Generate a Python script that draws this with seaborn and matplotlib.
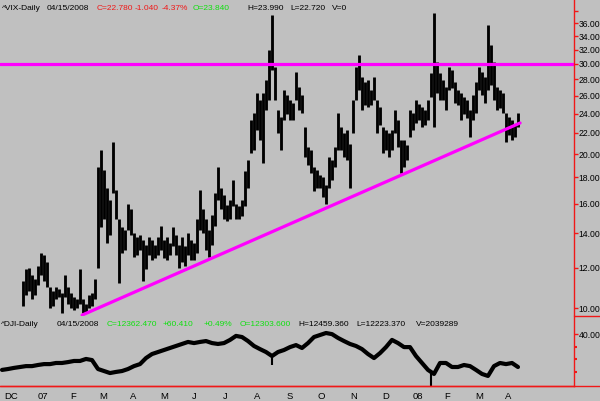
import numpy as np
import pandas as pd
import matplotlib
matplotlib.use("Agg")
import matplotlib.pyplot as plt
import seaborn as sns

# VIX daily bars (every second session), high / low
vix_high = [11.3, 11.9, 12.0, 11.6, 11.4, 12.1, 12.8, 12.7, 12.3, 11.0,
            10.8, 11.0, 10.9, 10.7, 11.6, 11.0, 10.7, 10.5, 10.4, 11.9,
            10.4, 10.2, 10.6, 10.7, 11.4, 18.9, 20.4, 18.6, 17.2, 16.3,
            21.1, 17.0, 14.9, 14.4, 14.2, 16.0, 15.6, 14.0, 13.8, 13.9,
            13.6, 13.3, 13.8, 13.6, 13.3, 13.8, 14.5, 13.6, 13.8, 13.4,
            14.4, 13.9, 13.3, 13.8, 13.2, 14.0, 13.6, 13.4, 14.9, 17.0,
            15.6, 14.9, 14.2, 15.2, 16.8, 18.9, 17.2, 16.6, 15.9, 16.3,
            17.8, 16.0, 15.8, 16.3, 18.5, 19.5, 23.3, 24.1, 26.3, 25.5,
            26.3, 27.9, 32.0, 37.4, 29.6, 24.4, 23.6, 26.7, 26.1, 25.5,
            25.2, 28.9, 27.1, 26.1, 22.6, 20.6, 20.4, 18.9, 18.6, 18.2,
            18.0, 17.4, 19.7, 19.5, 20.6, 24.1, 22.6, 22.0, 22.3, 20.9,
            25.5, 29.6, 31.3, 28.3, 27.6, 27.9, 26.7, 28.3, 25.5, 24.7,
            22.6, 22.3, 22.0, 22.3, 24.4, 23.3, 21.3, 21.3, 20.8, 24.4,
            24.1, 25.5, 25.0, 24.7, 24.4, 25.5, 28.8, 37.8, 30.2, 28.8,
            27.9, 27.1, 29.6, 29.2, 27.6, 26.7, 26.3, 25.9, 25.5, 24.4,
            26.1, 27.6, 29.6, 28.9, 28.3, 35.8, 32.6, 30.2, 27.1, 26.7,
            26.3, 24.1, 23.6, 23.3, 22.8, 24.1]
vix_low = [10.1, 10.6, 10.8, 10.4, 10.6, 11.1, 11.6, 11.3, 11.0, 10.0,
           10.1, 10.4, 10.5, 9.8, 10.5, 10.2, 10.0, 9.9, 10.0, 10.2,
           9.8, 9.8, 10.0, 10.1, 10.4, 12.0, 14.4, 14.9, 13.4, 13.9,
           16.8, 14.9, 11.2, 12.8, 13.0, 14.2, 13.9, 12.6, 12.7, 13.0,
           11.3, 11.9, 12.7, 12.4, 12.5, 12.7, 13.0, 12.5, 12.4, 12.7,
           13.2, 12.7, 12.0, 12.3, 12.1, 12.7, 12.4, 12.4, 12.8, 14.2,
           14.0, 13.0, 12.6, 13.3, 14.5, 16.3, 15.6, 14.9, 14.8, 14.9,
           15.8, 14.9, 14.9, 15.1, 15.8, 17.2, 20.1, 20.4, 22.3, 21.3,
           19.2, 24.4, 25.5, 29.2, 25.5, 22.0, 20.4, 23.3, 23.9, 23.3,
           23.3, 25.5, 24.4, 24.1, 19.7, 19.0, 18.4, 16.9, 17.2, 17.2,
           16.5, 16.0, 17.2, 17.8, 18.9, 20.4, 20.4, 19.7, 19.5, 17.2,
           22.0, 25.5, 26.7, 24.4, 24.9, 24.7, 24.9, 25.5, 22.0, 22.8,
           20.1, 20.4, 19.7, 20.4, 22.0, 20.6, 18.4, 18.9, 19.5, 21.6,
           22.3, 23.0, 23.3, 22.6, 22.8, 23.3, 25.9, 22.6, 26.3, 25.5,
           25.5, 24.4, 26.7, 26.9, 25.2, 24.9, 23.3, 23.9, 23.5, 21.6,
           23.3, 24.1, 26.7, 26.1, 25.2, 26.7, 27.3, 25.5, 24.4, 24.6,
           24.1, 21.1, 21.8, 21.3, 21.6, 22.6]

# Dow Jones closes, every fourth session, starting 7 bars before the VIX
dji_close = [12450, 12490, 12540, 12580, 12620, 12620, 12670, 12710, 12710, 12760,
             12760, 12800, 12850, 12850, 12940, 12890, 12490, 12400, 12310, 12360,
             12400, 12490, 12620, 12710, 12980, 13160, 13250, 13340, 13430, 13520,
             13610, 13700, 13650, 13700, 13740, 13650, 13610, 13650, 13790, 13970,
             13920, 13740, 13520, 13380, 13250, 13070, 13250, 13340, 13470, 13560,
             13430, 13650, 13920, 14010, 14100, 14050, 13880, 13740, 13610, 13520,
             13380, 13160, 12980, 13200, 13470, 13790, 13650, 13470, 13470, 13070,
             12760, 12450, 12270, 12760, 12760, 12580, 12580, 12670, 12620, 12450,
             12270, 12180, 12620, 12760, 12710, 12760, 12580]
dji_spike_pos = [83, 136]
dji_spike_low = [12670, 11690]
dji_spike_high = [13100, 12300]

# trend lines drawn on the VIX chart
resist_level = 30.0
trend_x = [19.7, 165.7]
trend_y = [9.69, 23.0]

month_labels = ["DC", "07", "F", "M", "A", "M", "J", "J", "A", "S", "O", "N", "D",
                "08", "F", "M", "A"]
month_pos = [-6.3, 5.0, 15.7, 25.3, 35.7, 45.7, 56.3, 66.7, 77.0, 88.0, 98.3,
             109.0, 119.7, 130.0, 140.3, 150.7, 160.7]

price_ticks = [10, 12, 14, 16, 18, 20, 22, 24, 26, 28, 30, 32, 34, 36, 38]

bg = "#c0c0c0"
red = "#f01818"
green = "#10e010"
magenta = "#ff00ff"

sns.set_style("white", {"axes.facecolor": bg, "figure.facecolor": bg})
plt.rcParams["font.family"] = ["Liberation Sans", "DejaVu Sans"]

W, H = 600, 401
fig = plt.figure(figsize=(6, 4.01), dpi=100)
fig.patch.set_facecolor(bg)

def fx(px):
    return px / W

def fy(py):
    return 1 - py / H

ax1 = fig.add_axes([0, fy(316), fx(574), 316 / H])
ax2 = fig.add_axes([0, fy(386), fx(574), 70 / H], sharex=ax1)

# ---- VIX panel
k = np.arange(len(vix_high))
ax1.vlines(k, vix_low, vix_high, color="black", lw=2.05)
ax1.axhline(resist_level, color=magenta, lw=2.3)
sns.lineplot(x=trend_x, y=trend_y, ax=ax1, color=magenta, lw=2.3)
ax1.set_yscale("log")
ax1.set_ylim(9.65, 40.0)
ax1.set_xlim(-7.67, 183.67)
ax1.yaxis.set_major_locator(matplotlib.ticker.FixedLocator(price_ticks))
ax1.yaxis.set_minor_locator(matplotlib.ticker.NullLocator())
ax1.yaxis.set_major_formatter(matplotlib.ticker.FixedFormatter(
    ["%.2f" % t if t < 38 else "" for t in price_ticks]))
ax1.yaxis.tick_right()
ax1.tick_params(axis="y", colors=red, labelcolor="black", length=3, width=1,
                labelsize=6.2, pad=0.5)
ax1.tick_params(axis="x", bottom=False, labelbottom=False)
for s in ["top", "left", "bottom"]:
    ax1.spines[s].set_visible(False)
ax1.spines["right"].set_color(red)
ax1.spines["right"].set_linewidth(1)
ax1.set_xlabel("")
ax1.set_ylabel("")

# ---- Dow panel
dji_pos = np.arange(-7, -7 + 2 * len(dji_close), 2)
sns.lineplot(x=dji_pos, y=dji_close, ax=ax2, color="black", lw=3.0)
ax2.vlines(dji_spike_pos, dji_spike_low, dji_spike_high, color="black", lw=1.5)
ax2.set_ylim(11731, 14860)
ax2.yaxis.tick_right()
ax2.set_yticks([14055])
ax2.set_yticklabels(["40.00"])
ax2.set_yticks([13474, 12938, 12357], minor=True)
ax2.tick_params(axis="y", which="major", colors=red, labelcolor="black",
                length=3, width=1, labelsize=6.2, pad=0.5)
ax2.tick_params(axis="y", which="minor", colors=red, length=2, width=1.5)
ax2.set_xticks(month_pos)
ax2.set_xticklabels(month_labels, ha="left")
ax2.set_xticks(np.arange(-6.5, 180, 2.55), minor=True)
ax2.tick_params(axis="x", which="major", colors=red, labelcolor="black",
                length=3, width=1, labelsize=6.8, pad=1, direction="out")
ax2.tick_params(axis="x", which="minor", colors=red, length=2, width=0.8,
                direction="in")
for s in ["top", "left"]:
    ax2.spines[s].set_visible(False)
for s in ["right", "bottom"]:
    ax2.spines[s].set_color(red)
    ax2.spines[s].set_linewidth(1)
ax2.set_xlabel("")
ax2.set_ylabel("")

# full-width axis line and panel separator on the price scale
fig.add_artist(plt.Line2D([0, 1], [fy(386), fy(386)], color=red, lw=1))
fig.add_artist(plt.Line2D([fx(574), 1], [fy(316), fy(316)], color=red, lw=1))

# ---- header texts
def header(items, py):
    for px, txt, col in items:
        fig.text(fx(px), fy(py), txt, color=col, fontsize=6.0, va="center", ha="left")

header([(2, "^VIX-Daily", "black"), (47, "04/15/2008", "black"),
        (97, "C=22.780", red), (135, "-1.040", red), (162, "-4.37%", red),
        (193, "O=23.840", green), (247, "H=23.990", "black"),
        (290, "L=22.720", "black"), (332, "V=0", "black")], 8)
header([(1, "^DJI-Daily", "black"), (57, "04/15/2008", "black"),
        (107, "C=12362.470", green), (163, "+60.410", green), (204, "+0.49%", green),
        (240, "O=12303.600", green), (298, "H=12459.360", "black"),
        (356, "L=12223.370", "black"), (416, "V=2039289", "black")], 324)

fig.savefig("out.png", dpi=100, facecolor=bg)
